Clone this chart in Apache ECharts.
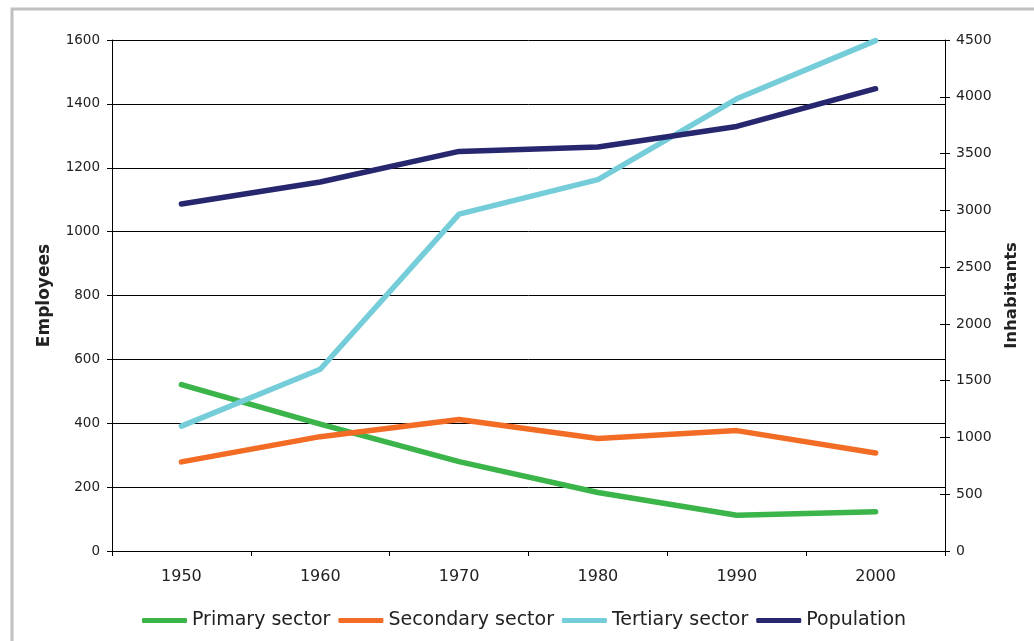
<!DOCTYPE html>
<html>
<head>
<meta charset="utf-8">
<script src="https://cdn.jsdelivr.net/npm/echarts@6/dist/echarts.min.js"></script>
<style>
html,body{margin:0;padding:0;background:#fff;}
#chart{width:1034px;height:641px;}
</style>
</head>
<body>
<div id="chart"></div>
<script>
const years = ['1950','1960','1970','1980','1990','2000'];
const primary = [521, 397, 280, 183, 112, 123];
const secondary = [279, 358, 412, 352, 377, 307];
const tertiary = [391, 569, 1055, 1163, 1416, 1598];
const population = [3055, 3249, 3519, 3557, 3739, 4071];
const leftTicks = {min: 0, max: 1600, interval: 200};
const rightTicks = {min: 0, max: 4500, interval: 500};

const font = 'DejaVu Sans, Verdana, sans-serif';
const txt = '#222';
const plain = v => String(v);
const chart = echarts.init(document.getElementById('chart'));
chart.setOption({
  animation: false,
  backgroundColor: '#fff',
  graphic: [{
    type: 'rect', silent: true,
    shape: {x: 12, y: 9, width: 1060, height: 680},
    style: {fill: 'none', stroke: '#c0c0c0', lineWidth: 3}
  }],
  grid: {left: 112, right: 89, top: 40, bottom: 90},
  legend: {
    bottom: 6, left: 137,
    icon: 'roundRect', itemWidth: 45, itemHeight: 5, itemGap: 8,
    textStyle: {fontFamily: font, fontSize: 19, color: txt},
    data: ['Primary sector','Secondary sector','Tertiary sector','Population']
  },
  xAxis: {
    type: 'category', data: years, boundaryGap: true,
    axisLine: {lineStyle: {color: '#000', width: 1}},
    axisTick: {show: true, length: 5, lineStyle: {color: '#000'}},
    axisLabel: {margin: 18, fontFamily: font, fontSize: 16, color: txt},
    splitLine: {show: false}
  },
  yAxis: [{
    type: 'value', position: 'left', ...leftTicks,
    name: 'Employees', nameLocation: 'middle', nameGap: 59, nameRotate: 90,
    nameTextStyle: {fontFamily: font, fontSize: 17, fontWeight: 'bold', color: txt},
    axisLine: {show: true, lineStyle: {color: '#000'}},
    axisTick: {show: true, length: 5, lineStyle: {color: '#000'}},
    axisLabel: {margin: 12, fontFamily: font, fontSize: 13.5, color: txt, formatter: plain},
    splitLine: {show: true, lineStyle: {color: '#000', width: 1}}
  }, {
    type: 'value', position: 'right', ...rightTicks,
    name: 'Inhabitants', nameLocation: 'middle', nameGap: 58, nameRotate: 90,
    nameTextStyle: {fontFamily: font, fontSize: 16.5, fontWeight: 'bold', color: txt},
    axisLine: {show: true, lineStyle: {color: '#000'}},
    axisTick: {show: true, length: 5, lineStyle: {color: '#000'}},
    axisLabel: {margin: 11, fontFamily: font, fontSize: 14, color: txt, formatter: plain},
    splitLine: {show: false}
  }, {
    type: 'value', position: 'right', ...rightTicks,
    axisLine: {show: false},
    axisTick: {show: true, inside: true, length: 5, lineStyle: {color: '#000'}},
    axisLabel: {show: false},
    splitLine: {show: false}
  }],
  series: [
    {name: 'Primary sector', type: 'line', data: primary, yAxisIndex: 0, symbol: 'none',
     lineStyle: {width: 5.5, color: '#3bb54a', cap: 'round', join: 'round'}, itemStyle: {color: '#3bb54a'}},
    {name: 'Secondary sector', type: 'line', data: secondary, yAxisIndex: 0, symbol: 'none',
     lineStyle: {width: 5.5, color: '#f36c25', cap: 'round', join: 'round'}, itemStyle: {color: '#f36c25'}},
    {name: 'Tertiary sector', type: 'line', data: tertiary, yAxisIndex: 0, symbol: 'none',
     lineStyle: {width: 5.5, color: '#74cdd9', cap: 'round', join: 'round'}, itemStyle: {color: '#74cdd9'}},
    {name: 'Population', type: 'line', data: population, yAxisIndex: 1, symbol: 'none',
     lineStyle: {width: 5.5, color: '#272770', cap: 'round', join: 'round'}, itemStyle: {color: '#272770'}}
  ]
});
</script>
</body>
</html>
